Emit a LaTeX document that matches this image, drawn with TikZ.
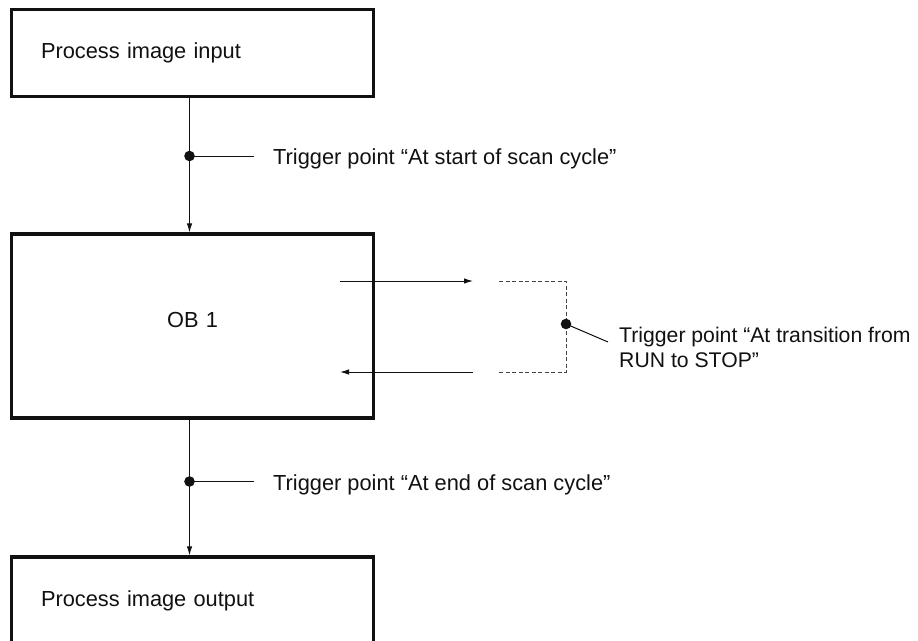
\documentclass[tikz,border=0pt]{standalone}
\usepackage{fontspec}
\setmainfont{Liberation Sans}
\usetikzlibrary{arrows.meta}
\definecolor{ink}{HTML}{111111}
\definecolor{dashgray}{HTML}{444444}

\tikzset{
  procbox/.style={draw=ink, line width=3.2pt, text width=303pt, inner xsep=29.5pt,
    inner ysep=0pt, minimum height=87pt, align=left, text=ink,
    font=\fontsize{21.8}{25}\selectfont},
  flow/.style={draw=ink, line width=1pt, -{Latex[length=9pt,width=5.5pt]}},
  leader/.style={draw=ink, line width=1pt},
  dashline/.style={draw=dashgray, line width=1pt, dash pattern=on 4pt off 2.5pt},
  trigtext/.style={inner sep=0pt, text=ink, align=left,
    font=\fontsize{21.8}{25}\selectfont}
}

\begin{document}
\begin{tikzpicture}[x=1pt,y=-1pt]
\clip (0,0) rectangle (918,640);

% the three blocks
\node[procbox] (pii) at (192.5,53.3) {Process image input};
\node[procbox, minimum height=184pt, align=center, text depth=12pt] (ob) at (192.5,326) {OB 1};
\node[procbox] (piq) at (192.5,600.5) {Process image output};

% trigger points on the main path
\coordinate (tpstart) at (189.5,156);
\coordinate (tpstartend) at (254,156);
\coordinate (tpend) at (189.5,481.5);
\coordinate (tpendend) at (254,481.5);

\draw[flow] (pii.south -| tpstart) -- (ob.north -| tpstart);
\draw[flow] (ob.south -| tpend) -- (piq.north -| tpend);
\draw[leader] (tpstart) -- (tpstartend);
\draw[leader] (tpend) -- (tpendend);
\fill[ink] (tpstart) circle[radius=5.3pt];
\fill[ink] (tpend) circle[radius=5.3pt];

\node[trigtext, anchor=base west] (tpstarttext) at (273,164) {Trigger point “At start of scan cycle”};
\node[trigtext, anchor=base west] (tpendtext) at (273,490) {Trigger point “At end of scan cycle”};

% RUN to STOP branch
\coordinate (runa) at (340,281);
\coordinate (runb) at (473,281);
\coordinate (stopa) at (473,372);
\coordinate (stopb) at (340,372);
\coordinate (da) at (499,281);
\coordinate (db) at (566,281);
\coordinate (dc) at (566,372);
\coordinate (dd) at (499,372);
\coordinate (tpstop) at (566,324);
\coordinate (tpstopend) at (608,342);

\draw[flow] (runa) -- (runb);
\draw[flow] (stopa) -- (stopb);
\draw[dashline] (da) -- (db) -- (dc) -- (dd);
\draw[leader] (tpstop) -- (tpstopend);
\fill[ink] (tpstop) circle[radius=5.3pt];

\node[trigtext, anchor=west, font=\fontsize{21.2}{25}\selectfont] (tpstoptext) at (619,347.5) {Trigger point “At transition from\\RUN to STOP”};
\end{tikzpicture}
\end{document}
